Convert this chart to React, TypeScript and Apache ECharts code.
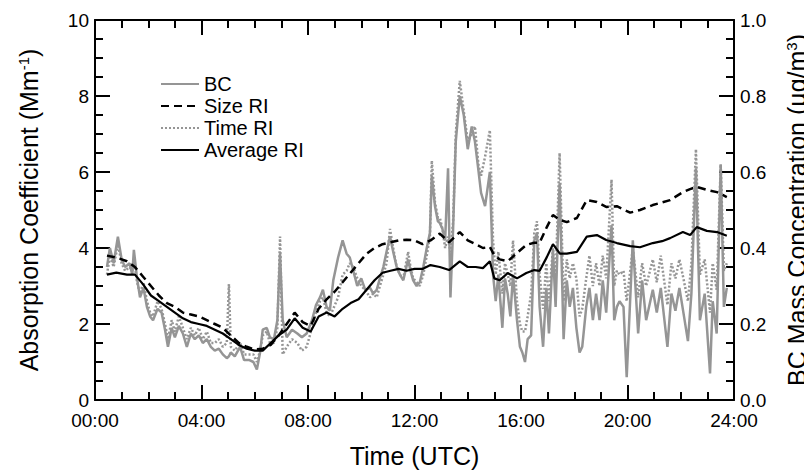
import React, { useEffect, useRef } from "react";
import * as echarts from "echarts";

// Hours (UTC) of the BC / Time RI samples
const bcTimes = [
  0.45, 0.56, 0.7, 0.86, 1.0, 1.13, 1.3, 1.4, 1.46, 1.58, 1.69, 1.82, 1.95, 2.07, 2.18, 2.35, 2.5, 2.63, 2.74, 2.88,
  3.0, 3.15, 3.3, 3.45, 3.6, 3.75, 3.9, 4.05, 4.2, 4.35, 4.5, 4.65, 4.8, 4.95, 5.03, 5.1, 5.25, 5.45, 5.6, 5.8,
  5.95, 6.08, 6.2, 6.3, 6.45, 6.57, 6.72, 6.85, 6.95, 7.05, 7.2, 7.4, 7.6, 7.77, 7.95, 8.15, 8.3, 8.45, 8.56, 8.7,
  8.82, 8.95, 9.13, 9.3, 9.45, 9.57, 9.7, 9.85, 10.0, 10.15, 10.33, 10.45, 10.58, 10.7, 10.83, 10.95, 11.08, 11.2, 11.33, 11.45,
  11.58, 11.76, 11.85, 11.95, 12.08, 12.2, 12.33, 12.46, 12.58, 12.65, 12.77, 12.88, 12.95, 13.05, 13.15, 13.26, 13.35, 13.45, 13.55, 13.7,
  13.85, 14.0, 14.15, 14.27, 14.4, 14.5, 14.65, 14.83, 14.95, 15.05, 15.15, 15.3, 15.4, 15.5, 15.6, 15.7, 15.85, 15.96, 16.05, 16.15,
  16.25, 16.38, 16.5, 16.6, 16.7, 16.83, 16.95, 17.05, 17.2, 17.3, 17.45, 17.6, 17.72, 17.83, 17.95, 18.08, 18.2, 18.3, 18.45, 18.57,
  18.7, 18.82, 18.95, 19.07, 19.2, 19.4, 19.5, 19.6, 19.7, 19.85, 19.97, 20.2, 20.4, 20.55, 20.7, 20.95, 21.1, 21.25, 21.5, 21.65,
  21.8, 21.95, 22.1, 22.27, 22.4, 22.57, 22.72, 22.9, 23.1, 23.2, 23.35, 23.5, 23.62, 23.73,
];

// BC mass concentration (ug/m3), right axis
const bcValues = [
  0.35, 0.4, 0.36, 0.43, 0.37, 0.35, 0.36, 0.33, 0.395, 0.32, 0.27, 0.295, 0.245, 0.22, 0.21, 0.24, 0.23, 0.185, 0.14, 0.19,
  0.165, 0.195, 0.175, 0.14, 0.175, 0.16, 0.17, 0.15, 0.16, 0.14, 0.13, 0.135, 0.12, 0.11, 0.115, 0.125, 0.115, 0.14, 0.105, 0.105,
  0.1, 0.08, 0.125, 0.185, 0.19, 0.165, 0.16, 0.21, 0.385, 0.21, 0.165, 0.185, 0.175, 0.165, 0.175, 0.21, 0.25, 0.27, 0.29, 0.245,
  0.235, 0.315, 0.375, 0.42, 0.385, 0.375, 0.34, 0.3, 0.32, 0.29, 0.295, 0.28, 0.29, 0.32, 0.35, 0.39, 0.43, 0.39, 0.35, 0.33,
  0.315, 0.37, 0.34, 0.315, 0.3, 0.31, 0.35, 0.4, 0.44, 0.59, 0.51, 0.47, 0.466, 0.45, 0.42, 0.61, 0.27, 0.45, 0.68, 0.8,
  0.75, 0.66, 0.72, 0.68, 0.605, 0.545, 0.51, 0.6, 0.33, 0.26, 0.33, 0.19, 0.32, 0.28, 0.22, 0.33, 0.21, 0.14, 0.125, 0.1,
  0.16, 0.17, 0.42, 0.44, 0.245, 0.14, 0.295, 0.175, 0.395, 0.245, 0.57, 0.16, 0.315, 0.245, 0.295, 0.19, 0.125, 0.14, 0.245, 0.295,
  0.21, 0.28, 0.21, 0.315, 0.23, 0.46, 0.21, 0.245, 0.26, 0.245, 0.06, 0.42, 0.175, 0.315, 0.21, 0.29, 0.23, 0.295, 0.14, 0.28,
  0.235, 0.295, 0.23, 0.155, 0.28, 0.61, 0.21, 0.28, 0.07, 0.26, 0.175, 0.62, 0.245, 0.295,
];

// Absorption coefficient (Mm-1) from the time-based RI
const timeRiValues = [
  3.3, 3.8, 3.5, 4.1, 3.6, 3.4, 3.5, 3.4, 3.7, 3.1, 2.8, 3.1, 2.6, 2.3, 2.2, 2.6, 2.4, 2.0, 1.6, 2.1,
  1.8, 2.2, 1.9, 1.6, 1.9, 1.7, 1.9, 1.6, 1.8, 1.5, 1.5, 1.6, 1.4, 1.5, 3.05, 1.4, 1.3, 1.5, 1.2, 1.2,
  1.2, 1.0, 1.3, 1.7, 1.8, 1.5, 1.5, 1.9, 4.3, 1.2, 1.4, 1.6, 1.5, 1.3, 1.4, 1.9, 2.3, 2.6, 2.7, 2.3,
  2.2, 2.4, 2.7, 3.3, 3.4, 3.6, 3.5, 3.2, 3.0, 2.9, 2.7, 2.8, 2.7, 3.0, 3.3, 3.6, 4.5, 4.0, 3.5, 3.3,
  3.2, 3.9, 3.5, 3.2, 3.1, 3.0, 3.3, 3.8, 4.3, 6.3, 5.2, 4.8, 4.8, 4.5, 4.0, 4.3, 3.9, 4.7, 7.0, 8.4,
  7.6, 6.8, 7.0, 7.2, 6.2, 5.9, 6.4, 7.1, 4.2, 3.3, 3.9, 2.8, 3.6, 3.3, 3.0, 4.2, 2.6, 2.0, 1.8, 1.8,
  2.2, 2.8, 4.4, 4.7, 3.3, 2.4, 3.6, 2.6, 4.0, 3.2, 6.5, 2.6, 3.7, 3.2, 3.6, 3.2, 2.2, 2.4, 3.2, 3.8,
  3.0, 3.6, 3.0, 3.8, 3.2, 5.8, 3.0, 3.4, 3.3, 3.4, 2.6, 4.0, 2.7, 3.6, 3.0, 3.7, 3.1, 3.8, 2.5, 3.6,
  3.2, 3.7, 3.2, 2.6, 3.6, 6.6, 3.3, 3.7, 2.3, 3.6, 2.9, 6.2, 3.4, 3.6,
];

// Hours (UTC) of the Size RI / Average RI samples
const riTimes = [
  0.45, 0.8, 1.2, 1.5, 1.8, 2.1, 2.4, 2.7, 3.0, 3.3, 3.6, 3.9, 4.2, 4.5, 4.8, 5.1, 5.4, 5.7, 6.0, 6.3,
  6.6, 6.9, 7.2, 7.5, 7.8, 8.1, 8.4, 8.7, 9.0, 9.3, 9.6, 9.9, 10.2, 10.5, 10.8, 11.1, 11.4, 11.7, 12.0, 12.3,
  12.6, 12.95, 13.3, 13.7, 14.0, 14.3, 14.57, 14.83, 15.0, 15.2, 15.5, 15.85, 16.2, 16.5, 16.7, 16.97, 17.2, 17.46, 17.72, 18.1,
  18.47, 18.85, 19.2, 19.6, 20.1, 20.47, 20.95, 21.3, 21.6, 22.08, 22.35, 22.6, 22.98, 23.36, 23.73,
];

const sizeRiValues = [
  3.8, 3.75, 3.65, 3.5, 3.25, 3.0, 2.75, 2.55, 2.45, 2.3, 2.25, 2.2, 2.1, 2.0, 1.9, 1.7, 1.5, 1.4, 1.33, 1.35,
  1.45, 1.7, 2.0, 2.3, 2.05, 1.95, 2.4, 2.65, 2.85, 3.1, 3.35, 3.6, 3.85, 4.0, 4.1, 4.15, 4.2, 4.22, 4.2, 4.1,
  4.2, 4.38, 4.15, 4.42, 4.2, 4.1, 4.0, 4.03, 3.8, 3.7, 3.65, 3.87, 4.08, 4.14, 4.14, 4.55, 4.87, 4.74, 4.68, 4.79,
  5.26, 5.21, 5.08, 5.1, 4.93, 5.0, 5.13, 5.2, 5.26, 5.47, 5.55, 5.61, 5.53, 5.47, 5.34,
];

const avgRiValues = [
  3.3, 3.35, 3.3, 3.3, 3.05, 2.75, 2.6, 2.45, 2.3, 2.15, 2.05, 2.0, 1.95, 1.85, 1.75, 1.6, 1.45, 1.35, 1.3, 1.3,
  1.5, 1.7, 1.85, 2.15, 1.9, 1.8, 2.2, 2.3, 2.2, 2.4, 2.55, 2.65, 2.9, 3.15, 3.35, 3.4, 3.45, 3.4, 3.45, 3.45,
  3.55, 3.5, 3.42, 3.65, 3.5, 3.5, 3.47, 3.65, 3.2, 3.15, 3.34, 3.2, 3.34, 3.42, 3.4, 3.76, 4.1, 3.85, 3.85, 3.9,
  4.3, 4.34, 4.21, 4.13, 4.05, 4.02, 4.13, 4.18, 4.26, 4.42, 4.34, 4.55, 4.45, 4.42, 4.32,
];

const legendNames = ["BC", "Size RI", "Time RI", "Average RI"];

const FONT = "'Liberation Sans', Arial, Helvetica, sans-serif";
const GRAY = "#959595";

function pairs(xs: number[], ys: number[]) {
  return xs.map((x, i) => [x, ys[i]]);
}

function frameParts() {
  return {
    axisLine: { show: true, onZero: false, lineStyle: { color: "#000", width: 2 } },
    axisTick: { show: true, inside: true, length: 15, lineStyle: { color: "#000", width: 2 } },
    minorTick: { show: true, splitNumber: 4, length: 8, lineStyle: { color: "#000", width: 2 } },
    splitLine: { show: false },
    minorSplitLine: { show: false },
  };
}

function nameStyle(size: number) {
  return {
    fontFamily: FONT,
    fontSize: size,
    color: "#000",
    rich: { sup: { fontFamily: FONT, fontSize: 15, color: "#000", verticalAlign: "top" } },
  };
}

export default function App() {
  const ref = useRef<HTMLDivElement>(null);

  useEffect(() => {
    if (!ref.current) return;
    const chart = echarts.init(ref.current, null, { renderer: "svg" });
    chart.setOption({
      animation: false,
      backgroundColor: "#fff",
      textStyle: { fontFamily: FONT, color: "#000" },
      grid: { left: 95, right: 70, top: 20, bottom: 74, containLabel: false, outerBoundsMode: "none" },
      legend: {
        data: legendNames,
        orient: "vertical",
        left: 155,
        top: 69,
        itemWidth: 38,
        itemHeight: 20,
        itemGap: 2,
        itemStyle: { opacity: 0, color: "rgba(0,0,0,0)", borderWidth: 0 },
        textStyle: { fontFamily: FONT, fontSize: 20, color: "#000" },
      },
      xAxis: [
        {
          type: "value",
          min: 0,
          max: 24,
          interval: 4,
          position: "bottom",
          ...frameParts(),
          name: "Time (UTC)",
          nameLocation: "middle",
          nameGap: 43,
          nameTextStyle: nameStyle(25),
          axisLabel: {
            show: true,
            margin: 11,
            fontFamily: FONT,
            fontSize: 19,
            color: "#000",
            formatter: (v: number) => (v < 10 ? "0" + v : "" + v) + ":00",
          },
        },
        {
          type: "value",
          min: 0,
          max: 24,
          interval: 4,
          position: "top",
          ...frameParts(),
          axisLabel: { show: false },
        },
      ],
      yAxis: [
        {
          type: "value",
          min: 0,
          max: 10,
          interval: 2,
          position: "left",
          ...frameParts(),
          name: "Absorption Coefficient (Mm{sup|-1})",
          nameLocation: "middle",
          nameGap: 54,
          nameRotate: 90,
          nameTextStyle: nameStyle(25),
          axisLabel: { margin: 6, fontFamily: FONT, fontSize: 19, color: "#000" },
        },
        {
          type: "value",
          min: 0,
          max: 1,
          interval: 0.2,
          position: "right",
          ...frameParts(),
          name: "BC Mass Concentration (\u00b5g/m{sup|3})",
          nameLocation: "middle",
          nameGap: 50,
          nameRotate: 90,
          nameTextStyle: nameStyle(25),
          axisLabel: {
            margin: 6,
            fontFamily: FONT,
            fontSize: 19,
            color: "#000",
            formatter: (v: number) => v.toFixed(1),
          },
        },
      ],
      series: [
        {
          name: "Time RI",
          type: "line",
          yAxisIndex: 0,
          data: pairs(bcTimes, timeRiValues),
          showSymbol: false,
          symbol: "none",
          lineStyle: { color: GRAY, width: 2.5, type: [2, 2] },
          itemStyle: { color: GRAY },
        },
        {
          name: "BC",
          type: "line",
          yAxisIndex: 1,
          data: pairs(bcTimes, bcValues),
          showSymbol: false,
          symbol: "none",
          lineStyle: { color: GRAY, width: 2.5 },
          itemStyle: { color: GRAY },
        },
        {
          name: "Size RI",
          type: "line",
          yAxisIndex: 0,
          data: pairs(riTimes, sizeRiValues),
          showSymbol: false,
          symbol: "none",
          lineStyle: { color: "#000", width: 2.5, type: [8, 5] },
          itemStyle: { color: "#000" },
        },
        {
          name: "Average RI",
          type: "line",
          yAxisIndex: 0,
          data: pairs(riTimes, avgRiValues),
          showSymbol: false,
          symbol: "none",
          lineStyle: { color: "#000", width: 2.2 },
          itemStyle: { color: "#000" },
        },
      ],
    });
    return () => chart.dispose();
  }, []);

  return (
    <div
      ref={ref}
      style={{ position: "fixed", left: 0, top: 0, width: 804, height: 474, background: "#fff" }}
    />
  );
}
